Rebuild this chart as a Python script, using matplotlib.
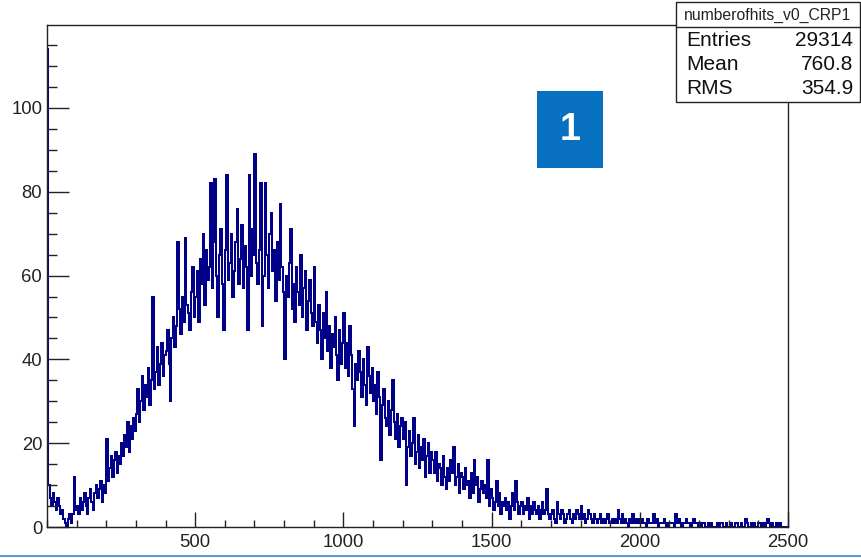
import numpy as np
import matplotlib
matplotlib.use("Agg")
import matplotlib.pyplot as plt
from matplotlib.ticker import MultipleLocator

# ---- data: counts per bin (bin width 5, range 0..2500) ----
bin_width = 5
x_min, x_max = 0, 2500

counts_0_500 = [
    114, 10, 7, 5, 8, 6, 4, 7, 5, 3, 4, 2, 1, 0, 2, 3, 1, 3, 12, 4,
    5, 3, 7, 4, 6, 8, 5, 3, 7, 9, 6, 4, 8, 10, 7, 9, 11, 6, 10, 8,
    21, 11, 14, 17, 12, 16, 18, 13, 17, 15, 20, 17, 22, 19, 25, 18, 24, 21, 26, 23,
    27, 33, 25, 30, 36, 28, 34, 31, 38, 29, 35, 55, 33, 37, 43, 34, 39, 44, 36, 41,
    42, 47, 39, 30, 45, 50, 43, 48, 68, 52, 46, 55, 49, 69, 53, 51, 47, 56, 62, 50,
]
counts_500_1000 = [
    55, 61, 49, 64, 58, 70, 53, 66, 59, 62, 82, 57, 68, 83, 60, 50, 65, 71, 58, 47,
    66, 84, 59, 63, 70, 55, 61, 68, 76, 58, 64, 72, 57, 67, 62, 47, 84, 60, 71, 65,
    89, 63, 58, 66, 82, 48, 60, 82, 65, 57, 70, 75, 61, 66, 54, 68, 59, 77, 62, 56,
    40, 60, 55, 63, 71, 52, 58, 49, 62, 56, 53, 65, 50, 57, 61, 47, 54, 59, 51, 48,
    62, 49, 44, 53, 47, 40, 51, 45, 56, 42, 48, 38, 46, 43, 50, 41, 35, 47, 39, 44,
]
counts_1000_1500 = [
    51, 38, 44, 36, 48, 41, 33, 24, 39, 35, 42, 37, 31, 40, 34, 29, 43, 36, 32, 38,
    30, 34, 27, 37, 31, 16, 29, 33, 26, 24, 30, 22, 28, 35, 25, 21, 27, 19, 24, 26,
    21, 25, 10, 19, 23, 17, 20, 26, 15, 18, 22, 14, 19, 16, 21, 12, 17, 20, 13, 18,
    16, 13, 18, 11, 15, 14, 10, 17, 12, 9, 14, 11, 16, 13, 19, 10, 12, 15, 8, 13,
    12, 9, 14, 10, 11, 7, 13, 8, 16, 10, 12, 6, 9, 11, 8, 10, 7, 16, 5, 9,
]
counts_1500_2000 = [
    7, 4, 6, 11, 5, 8, 3, 6, 5, 7, 4, 6, 2, 5, 8, 4, 11, 6, 3, 5,
    6, 3, 5, 4, 7, 2, 5, 3, 6, 4, 3, 5, 2, 4, 6, 3, 4, 9, 3, 2,
    3, 4, 2, 1, 6, 3, 2, 4, 3, 1, 2, 3, 4, 2, 1, 3, 2, 4, 3, 2,
    5, 2, 3, 1, 2, 4, 3, 2, 1, 3, 2, 1, 2, 3, 1, 2, 1, 2, 3, 1,
    1, 2, 1, 2, 1, 4, 2, 1, 3, 1, 2, 1, 0, 2, 1, 3, 1, 2, 1, 2,
]
counts_2000_2500 = [
    1, 2, 1, 1, 0, 2, 1, 1, 1, 3, 1, 2, 0, 1, 1, 1, 2, 1, 0, 1,
    1, 1, 1, 0, 3, 1, 2, 1, 0, 1, 1, 2, 1, 1, 0, 1, 2, 1, 1, 0,
    1, 0, 1, 1, 0, 0, 1, 0, 1, 0, 0, 0, 1, 0, 1, 1, 0, 0, 1, 0,
    0, 1, 0, 0, 1, 1, 0, 0, 1, 0, 0, 2, 1, 0, 0, 1, 0, 1, 0, 0,
    1, 1, 0, 1, 0, 1, 2, 1, 0, 1, 0, 0, 1, 0, 1, 0, 0, 0, 0, 0,
]

hist_name = "numberofhits_v0_CRP1"
stat_labels = ["Entries", "Mean", "RMS"]
stat_values = ["29314", "760.8", "354.9"]
x_ticks = [500, 1000, 1500, 2000, 2500]
y_ticks = [0, 20, 40, 60, 80, 100]
badge_text = "1"

counts = np.array(counts_0_500 + counts_500_1000 + counts_1000_1500
                  + counts_1500_2000 + counts_2000_2500, dtype=float)
edges = np.arange(x_min, x_max + bin_width, bin_width)

# ---- figure ----
W, H = 861, 558
fig = plt.figure(figsize=(W / 100, H / 100), dpi=100)
plt.rcParams['font.family'] = ['Liberation Sans', 'DejaVu Sans']

ax = fig.add_axes([47 / W, 1 - 527 / H, (788 - 47) / W, (527 - 25) / H])
ax.stairs(counts, edges, color='#000088', lw=1.45, baseline=0)
ax.set_xlim(x_min, x_max)
ax.set_ylim(0, 119.8)

ax.set_xticks(x_ticks)
ax.set_xticklabels([str(t) for t in x_ticks])
ax.set_yticks(y_ticks)
ax.set_yticklabels([str(t) for t in y_ticks])
ax.xaxis.set_minor_locator(MultipleLocator(100))
ax.yaxis.set_minor_locator(MultipleLocator(5))

ax.tick_params(axis='both', which='both', direction='in', colors='#222222',
               labelcolor='#222222', labelsize=13.3, width=1)
ax.tick_params(axis='x', which='major', length=10.5, pad=5)
ax.tick_params(axis='x', which='minor', length=5)
ax.tick_params(axis='y', which='major', length=15.5, pad=3.5)
ax.tick_params(axis='y', which='minor', length=7.5)
ax.tick_params(top=False, right=False, which='both')
for s in ax.spines.values():
    s.set_color('#222222')
    s.set_linewidth(1)

# ---- stats box ----
bx0, by0, bx1, by1 = 676, 2, 860, 102


def fx(px):
    return px / W


def fy(py):
    return 1 - py / H


fig.patches.append(plt.Rectangle((fx(bx0), fy(by1)), fx(bx1) - fx(bx0), fy(by0) - fy(by1),
                                 transform=fig.transFigure, facecolor='white',
                                 edgecolor='#222222', lw=1, zorder=5))
fig.lines.append(plt.Line2D([fx(bx0), fx(bx1)], [fy(27), fy(27)], transform=fig.transFigure,
                            color='#222222', lw=1, zorder=6))
fig.text(fx((bx0 + bx1) / 2), fy(15), hist_name, ha='center', va='center',
         fontsize=11.3, color='#222222', zorder=7)
row_y = [41, 65, 89]
for lab, val, yy in zip(stat_labels, stat_values, row_y):
    fig.text(fx(686), fy(yy), lab, ha='left', va='center', fontsize=15,
             color='#111111', zorder=7)
    fig.text(fx(853), fy(yy), val, ha='right', va='center', fontsize=15,
             color='#111111', zorder=7)

# ---- badge ----
fig.patches.append(plt.Rectangle((fx(537), fy(168)), fx(603) - fx(537), fy(91) - fy(168),
                                 transform=fig.transFigure, facecolor='#0870C0',
                                 edgecolor='none', zorder=5))
fig.text(fx(570), fy(130), badge_text, ha='center', va='center', fontsize=27,
         fontweight='bold', color='white', zorder=7)

# bottom slide line
fig.lines.append(plt.Line2D([0, 1], [fy(556), fy(556)], transform=fig.transFigure,
                            color='#5B9BD5', lw=1.5))

fig.savefig('out.png', dpi=100)
